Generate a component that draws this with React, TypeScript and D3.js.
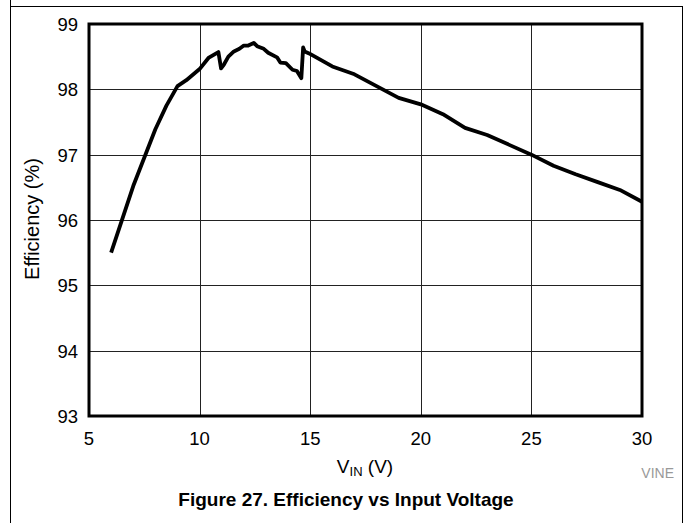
import React from "react";
import * as d3 from "d3";

const vin = [6, 7, 8, 8.5, 9, 9.4, 10, 10.4, 10.85, 10.97, 11.1, 11.3, 11.55, 11.8, 12.0, 12.2, 12.45, 12.6, 12.9, 13.1, 13.5, 13.65, 13.9, 14.2, 14.4, 14.6, 14.68, 14.75, 14.95, 16.0, 17.0, 18.0, 19.0, 20.0, 21.0, 22.0, 23.0, 24.0, 25.0, 26.0, 27.0, 28.0, 29.0, 30.0];
const efficiency = [95.5, 96.52, 97.39, 97.75, 98.05, 98.14, 98.31, 98.48, 98.57, 98.32, 98.38, 98.5, 98.58, 98.62, 98.67, 98.67, 98.71, 98.66, 98.62, 98.56, 98.49, 98.41, 98.4, 98.3, 98.28, 98.17, 98.64, 98.58, 98.55, 98.35, 98.23, 98.05, 97.87, 97.77, 97.62, 97.41, 97.3, 97.15, 97.0, 96.83, 96.7, 96.58, 96.46, 96.28];
const xTicks = [5, 10, 15, 20, 25, 30];
const yTicks = [93, 94, 95, 96, 97, 98, 99];

const W = 684, H = 523;
const L = 89, R = 642, T = 24, B = 416;
const FONT = "'Liberation Sans', Arial, sans-serif";

export default function App() {
  const x = d3.scaleLinear().domain([5, 30]).range([L, R]);
  const y = d3.scaleLinear().domain([93, 99]).range([B, T]);
  const line = d3.line<number>().x((_, i) => x(vin[i])).y((d) => y(d));
  const path = line(efficiency) || "";
  return (
    <svg width={W} height={H} style={{ position: "absolute", left: 0, top: 0, background: "#fff" }} fontFamily={FONT}>
      <rect x={0} y={0} width={W} height={H} fill="#fff" />
      {/* page frame */}
      <line x1={10.5} y1={0} x2={10.5} y2={H} stroke="#000" strokeWidth={1} />
      <line x1={10} y1={6.5} x2={683} y2={6.5} stroke="#000" strokeWidth={1} />
      <line x1={682.5} y1={6} x2={682.5} y2={H} stroke="#000" strokeWidth={1} />
      {/* grid */}
      {xTicks.slice(1, -1).map((t) => (
        <line key={"gx" + t} x1={Math.round(x(t)) + 0.5} x2={Math.round(x(t)) + 0.5} y1={T} y2={B} stroke="#222" strokeWidth={1} />
      ))}
      {yTicks.slice(1, -1).map((t) => (
        <line key={"gy" + t} x1={L} x2={R} y1={Math.round(y(t)) + 0.5} y2={Math.round(y(t)) + 0.5} stroke="#222" strokeWidth={1} />
      ))}
      <path d={path} fill="none" stroke="#000" strokeWidth={3.8} strokeLinejoin="round" strokeLinecap="butt" />
      <rect x={L} y={T} width={R - L} height={B - T} fill="none" stroke="#000" strokeWidth={3} />
      {/* y tick labels */}
      {yTicks.map((t) => (
        <text key={"ty" + t} x={78} y={y(t) + 7} textAnchor="end" fontSize={18.5} fill="#000">{t}</text>
      ))}
      {xTicks.map((t) => (
        <text key={"tx" + t} x={x(t)} y={B + 29} textAnchor="middle" fontSize={18.5} fill="#000">{t}</text>
      ))}
      <text x={365} y={473} textAnchor="middle" fontSize={19} fill="#000">
        V<tspan fontSize={13} dy={3}>IN</tspan><tspan dy={-3}> (V)</tspan>
      </text>
      <text transform={`translate(39,219) rotate(-90)`} textAnchor="middle" fontSize={20} fill="#000">Efficiency (%)</text>
      <text x={674} y={478} textAnchor="end" fontSize={14} fill="#999">VINE</text>
      <text x={346} y={506} textAnchor="middle" fontSize={19} fontWeight="bold" fill="#000">Figure 27. Efficiency vs Input Voltage</text>
    </svg>
  );
}
